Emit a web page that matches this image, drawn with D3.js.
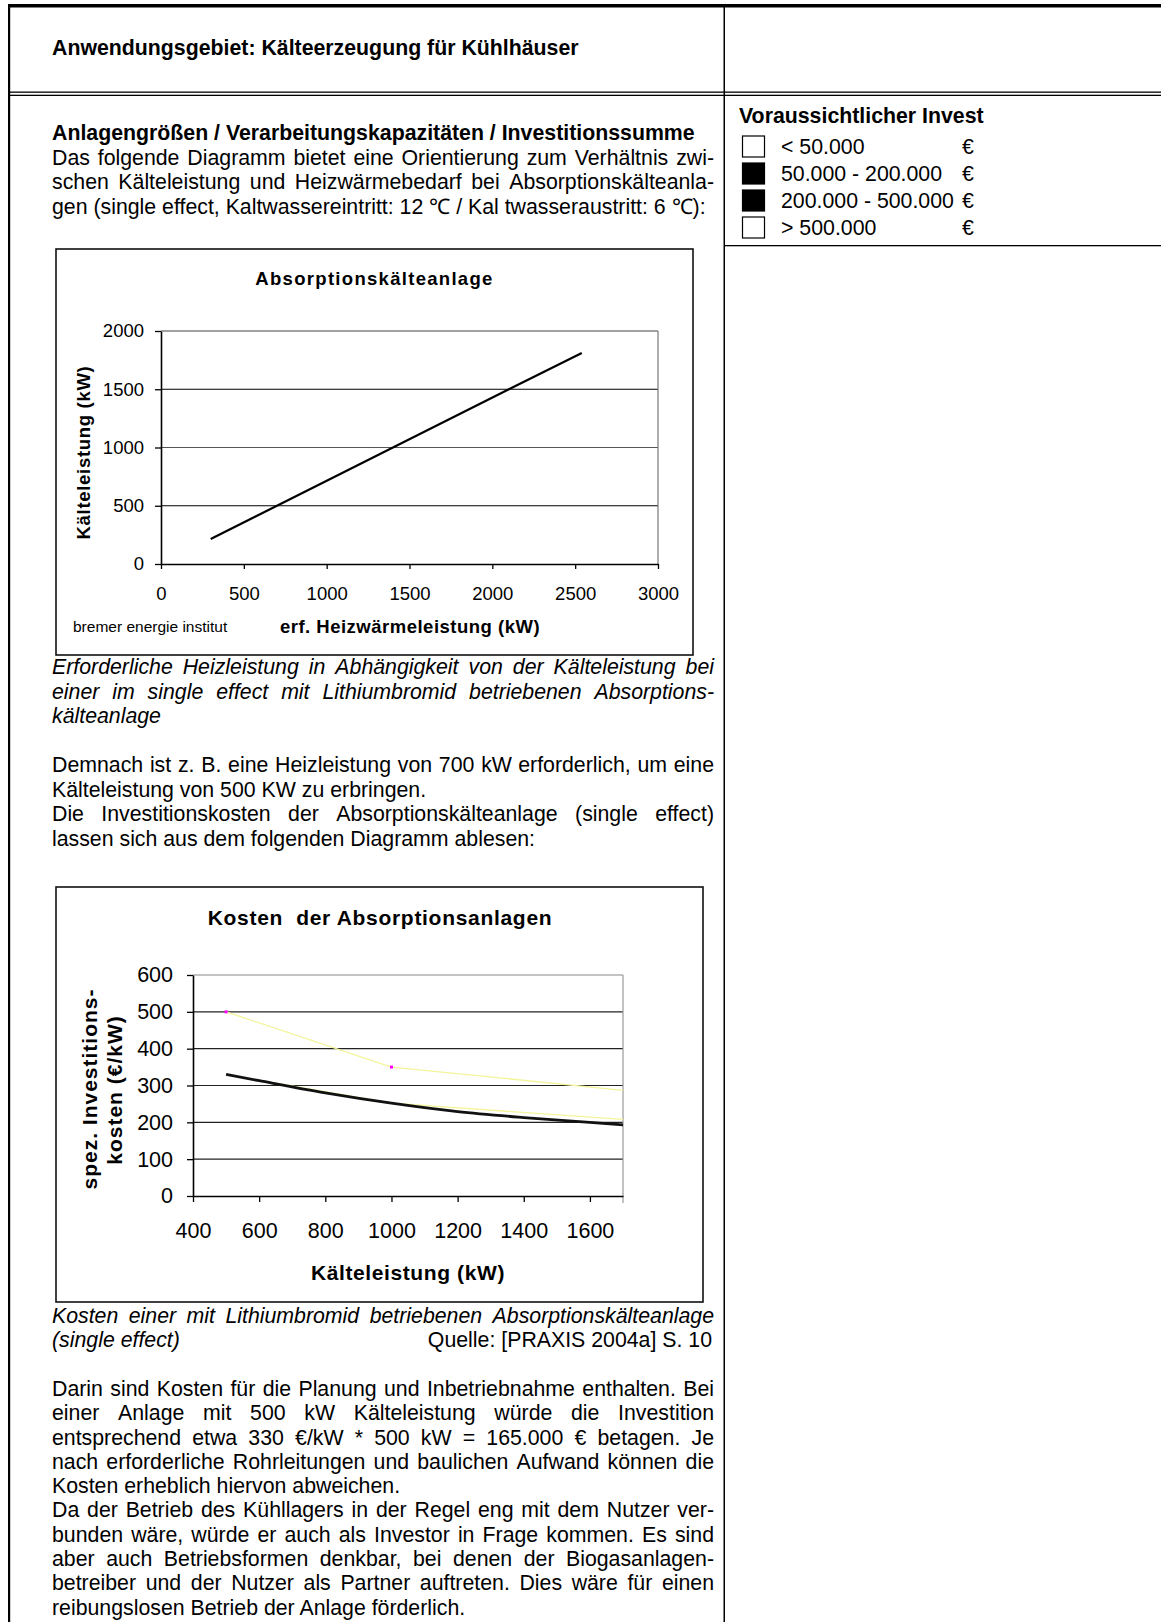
<!DOCTYPE html>
<html>
<head>
<meta charset="utf-8">
<script src="https://cdn.jsdelivr.net/npm/d3@7"></script>
<style>
  html, body { margin: 0; padding: 0; background: #fff; }
  svg { display: block; font-family: 'Liberation Sans', Arial, sans-serif; }
</style>
</head>
<body>
<script>
// ---- Chart 1: Absorptionskälteanlage (heat input vs. cooling output) ----
const heatKW = [300, 700, 1400, 2100, 2540];
const coolKW = [214, 500, 1000, 1500, 1812];
const heatTicks = [0, 500, 1000, 1500, 2000, 2500, 3000];
const coolTicks = [0, 500, 1000, 1500, 2000];

// ---- Chart 2: Kosten der Absorptionsanlagen ----
const capacityKW = [500, 600, 800, 1000, 1200, 1400, 1600, 1700];
const specCost = [330, 313, 280, 252, 229, 213, 200, 193];
const upperRefKW = [500, 1000, 1700];
const upperRefCost = [500, 350, 287];
const lowerRefKW = [500, 1000, 1700];
const lowerRefCost = [330, 252, 208];
const markerKW = [500, 1000];
const markerCost = [500, 350];
const capTicks = [400, 600, 800, 1000, 1200, 1400, 1600];
const costTicks = [0, 100, 200, 300, 400, 500, 600];

// ---- Legend ----
const investLabels = ["< 50.000", "50.000 - 200.000", "200.000 - 500.000", "> 500.000"];
const investFilled = [false, true, true, false];

const W = 1161, H = 1622, BODY = 21.3;
const svg = d3.select("body").append("svg").attr("width", W).attr("height", H);

// ---------- page table ----------
const table = svg.append("g");
table.append("rect").attr("x", 8).attr("y", 4).attr("width", W - 8).attr("height", 3.5).attr("fill", "#000");
table.append("rect").attr("x", 8).attr("y", 4).attr("width", 2.2).attr("height", H).attr("fill", "#000");
table.append("rect").attr("x", 723.5).attr("y", 4).attr("width", 1.5).attr("height", H).attr("fill", "#000");
table.append("rect").attr("x", 8).attr("y", 91.5).attr("width", W - 8).attr("height", 1.3).attr("fill", "#000");
table.append("rect").attr("x", 8).attr("y", 94.7).attr("width", W - 8).attr("height", 1.3).attr("fill", "#000");
table.append("rect").attr("x", 724).attr("y", 245).attr("width", W - 724).attr("height", 1.3).attr("fill", "#000");

// text helper: plain, or justified between x0 and x1 by widening word gaps
function line(str, x0, y, o = {}) {
  const t = svg.append("text").attr("y", y)
    .style("font-size", (o.size || BODY) + "px")
    .style("font-weight", o.bold ? "bold" : null)
    .style("font-style", o.italic ? "italic" : null)
    .attr("fill", "#000");
  if (o.justify) {
    const words = str.split(" ");
    const spans = words.map(w => t.append("tspan").text(w));
    const widths = spans.map(s => s.node().getComputedTextLength());
    const gap = (o.x1 - x0 - d3.sum(widths)) / (words.length - 1);
    let x = x0;
    spans.forEach((s, i) => { s.attr("x", x); x += widths[i] + gap; });
  } else {
    t.attr("x", x0).text(str);
    if (o.anchor) t.attr("text-anchor", o.anchor);
  }
  return t;
}

const L = 52, R = 714, LH = 24.5;
line("Anwendungsgebiet: Kälteerzeugung für Kühlhäuser", L, 55, { bold: true });

// legend in right column
line("Voraussichtlicher Invest", 739, 123, { bold: true });
investLabels.forEach((lab, i) => {
  const yb = 154 + i * 27;
  svg.append("rect").attr("x", 742.5).attr("y", yb - 18).attr("width", 22).attr("height", 21)
    .attr("fill", investFilled[i] ? "#000" : "#fff").attr("stroke", "#000").attr("stroke-width", 1.2);
  line(lab, 781, yb);
  line("€", 962, yb);
});

// introductory paragraph
let y = 140;
line("Anlagengrößen / Verarbeitungskapazitäten / Investitionssumme", L, y, { bold: true });
line("Das folgende Diagramm bietet eine Orientierung zum Verhältnis zwi-", L, y += LH, { justify: true, x1: R });
line("schen Kälteleistung und Heizwärmebedarf bei Absorptionskälteanla-", L, y += LH, { justify: true, x1: R });
line("gen (single effect, Kaltwassereintritt: 12 ℃ / Kal twasseraustritt: 6 ℃):", L, y += LH);

// caption + paragraph between charts
y = 674;
line("Erforderliche Heizleistung in Abhängigkeit von der Kälteleistung bei", L, y, { italic: true, justify: true, x1: R });
line("einer im single effect mit Lithiumbromid betriebenen Absorptions-", L, y += LH, { italic: true, justify: true, x1: R });
line("kälteanlage", L, y += LH, { italic: true });
y += LH;
line("Demnach ist z. B. eine Heizleistung von 700 kW erforderlich, um eine", L, y += LH, { justify: true, x1: R });
line("Kälteleistung von 500 KW zu erbringen.", L, y += LH);
line("Die Investitionskosten der Absorptionskälteanlage (single effect)", L, y += LH, { justify: true, x1: R });
line("lassen sich aus dem folgenden Diagramm ablesen:", L, y += LH);

// caption + closing paragraphs
const LH2 = 24.3;
y = 1323;
line("Kosten einer mit Lithiumbromid betriebenen Absorptionskälteanlage", L, y, { italic: true, justify: true, x1: R });
line("(single effect)", L, y += LH2, { italic: true });
line("Quelle: [PRAXIS 2004a] S. 10", 712, y, { anchor: "end" });
y += LH2;
[
  ["Darin sind Kosten für die Planung und Inbetriebnahme enthalten. Bei", true],
  ["einer Anlage mit 500 kW Kälteleistung würde die Investition", true],
  ["entsprechend etwa 330 €/kW * 500 kW = 165.000 € betagen. Je", true],
  ["nach erforderliche Rohrleitungen und baulichen Aufwand können die", true],
  ["Kosten erheblich hiervon abweichen.", false],
  ["Da der Betrieb des Kühllagers in der Regel eng mit dem Nutzer ver-", true],
  ["bunden wäre, würde er auch als Investor in Frage kommen. Es sind", true],
  ["aber auch Betriebsformen denkbar, bei denen der Biogasanlagen-", true],
  ["betreiber und der Nutzer als Partner auftreten. Dies wäre für einen", true],
  ["reibungslosen Betrieb der Anlage förderlich.", false]
].forEach(([s, j]) => line(s, L, y += LH2, { justify: j, x1: R }));

// ---------- Chart 1 ----------
{
  const g = svg.append("g");
  g.append("rect").attr("x", 56).attr("y", 249).attr("width", 637).attr("height", 406)
    .attr("fill", "#fff").attr("stroke", "#111").attr("stroke-width", 1.6);

  const x = d3.scaleLinear().domain([0, 3000]).range([161, 658]);
  const yS = d3.scaleLinear().domain([0, 2000]).range([564, 331]);

  // gridlines and frame of the plot area
  g.selectAll("line.grid").data(coolTicks.filter(v => v > 0)).join("line")
    .attr("x1", x(0)).attr("x2", x(3000)).attr("y1", d => yS(d)).attr("y2", d => yS(d))
    .attr("stroke", d => d === 2000 ? "#444" : (d === 1000 ? "#555" : "#000")).attr("stroke-width", 1.2);
  g.append("line").attr("x1", x(3000)).attr("x2", x(3000)).attr("y1", yS(2000)).attr("y2", yS(0))
    .attr("stroke", "#777").attr("stroke-width", 1.2);

  const fs = 18.5;
  const ax = g.append("g").attr("transform", `translate(0,${yS(0)})`)
    .call(d3.axisBottom(x).tickValues(heatTicks).tickSize(5).tickSizeOuter(0).tickPadding(18).tickFormat(d3.format("d")));
  const ay = g.append("g").attr("transform", `translate(${x(0)},0)`)
    .call(d3.axisLeft(yS).tickValues(coolTicks).tickSize(6).tickSizeOuter(0).tickPadding(11).tickFormat(d3.format("d")));
  [ax, ay].forEach(a => {
    a.selectAll("text").attr("fill", "#000").style("font-size", fs + "px");
    a.selectAll("line").attr("stroke", "#000").attr("stroke-width", 1.3);
    a.select(".domain").attr("stroke", "#000").attr("stroke-width", 1.6);
    a.attr("font-family", null).attr("font-size", null);
  });

  g.append("path").datum(heatKW.map((h, i) => [h, coolKW[i]]))
    .attr("d", d3.line().x(d => x(d[0])).y(d => yS(d[1])))
    .attr("fill", "none").attr("stroke", "#000").attr("stroke-width", 2.2);

  g.append("text").attr("x", 374.5).attr("y", 285).attr("text-anchor", "middle")
    .style("font-size", "18.5px").style("font-weight", "bold").style("letter-spacing", "1.3px")
    .text("Absorptionskälteanlage");
  g.append("text").attr("x", 410).attr("y", 633).attr("text-anchor", "middle")
    .style("font-size", "18.5px").style("font-weight", "bold").style("letter-spacing", "0.5px")
    .text("erf. Heizwärmeleistung (kW)");
  g.append("text").attr("transform", "translate(89.5,452.5) rotate(-90)").attr("text-anchor", "middle")
    .style("font-size", "18.5px").style("font-weight", "bold").style("letter-spacing", "0.7px")
    .text("Kälteleistung (kW)");
  g.append("text").attr("x", 73).attr("y", 632).style("font-size", "15.5px").text("bremer energie institut");
}

// ---------- Chart 2 ----------
{
  const g = svg.append("g");
  g.append("rect").attr("x", 56).attr("y", 887).attr("width", 647).attr("height", 415)
    .attr("fill", "#fff").attr("stroke", "#111").attr("stroke-width", 1.6);

  const x = d3.scaleLinear().domain([400, 1700]).range([193, 623]);
  const yS = d3.scaleLinear().domain([0, 600]).range([1196, 975]);

  g.selectAll("line.grid").data(costTicks.filter(v => v > 0)).join("line")
    .attr("x1", x(400)).attr("x2", x(1700)).attr("y1", d => yS(d)).attr("y2", d => yS(d))
    .attr("stroke", d => d === 600 ? "#888" : "#222").attr("stroke-width", 1.2);
  g.append("line").attr("x1", x(1700)).attr("x2", x(1700)).attr("y1", yS(600)).attr("y2", yS(0) + 7)
    .attr("stroke", "#999").attr("stroke-width", 1.2);

  const fs = 21.5;
  const ax = g.append("g").attr("transform", `translate(0,${yS(0)})`)
    .call(d3.axisBottom(x).tickValues(capTicks).tickSize(6).tickSizeOuter(0).tickPadding(20.5).tickFormat(d3.format("d")));
  const ay = g.append("g").attr("transform", `translate(${x(400)},0)`)
    .call(d3.axisLeft(yS).tickValues(costTicks).tickSize(6).tickSizeOuter(0).tickPadding(14).tickFormat(d3.format("d")));
  [ax, ay].forEach(a => {
    a.selectAll("text").attr("fill", "#000").style("font-size", fs + "px");
    a.selectAll("line").attr("stroke", "#000").attr("stroke-width", 1.3);
    a.select(".domain").attr("stroke", "#000").attr("stroke-width", 1.6);
    a.attr("font-family", null).attr("font-size", null);
  });

  const clipId = "plot2clip";
  g.append("clipPath").attr("id", clipId).append("rect")
    .attr("x", x(400)).attr("y", yS(600)).attr("width", x(1700) - x(400) + 1).attr("height", yS(0) - yS(600));
  const plot = g.append("g").attr("clip-path", `url(#${clipId})`);
  const ln = d3.line().x(d => x(d[0])).y(d => yS(d[1]));

  plot.append("path").datum(upperRefKW.map((k, i) => [k, upperRefCost[i]])).attr("d", ln)
    .attr("fill", "none").attr("stroke", "#f4f49a").attr("stroke-width", 1.3);
  plot.append("path").datum(lowerRefKW.map((k, i) => [k, lowerRefCost[i]])).attr("d", ln)
    .attr("fill", "none").attr("stroke", "#f4f49a").attr("stroke-width", 1.3);
  plot.append("path").datum(capacityKW.map((k, i) => [k, specCost[i]]))
    .attr("d", d3.line().x(d => x(d[0])).y(d => yS(d[1])).curve(d3.curveMonotoneX))
    .attr("fill", "none").attr("stroke", "#111").attr("stroke-width", 2.8);

  g.selectAll("rect.mk").data(markerKW.map((k, i) => [k, markerCost[i]])).join("rect")
    .attr("x", d => x(d[0]) - 1.5).attr("y", d => yS(d[1]) - 1.5).attr("width", 3).attr("height", 3)
    .attr("fill", "#ff00ff");

  g.append("text").attr("x", 380).attr("y", 925).attr("text-anchor", "middle")
    .style("font-size", "21px").style("font-weight", "bold").style("letter-spacing", "0.7px")
    .style("white-space", "pre").text("Kosten  der Absorptionsanlagen");
  g.append("text").attr("x", 408).attr("y", 1280).attr("text-anchor", "middle")
    .style("font-size", "21px").style("font-weight", "bold").style("letter-spacing", "0.6px")
    .text("Kälteleistung (kW)");
  g.append("text").attr("transform", "translate(97,1089) rotate(-90)").attr("text-anchor", "middle")
    .style("font-size", "21px").style("font-weight", "bold").style("letter-spacing", "1px")
    .text("spez. Investitions-");
  g.append("text").attr("transform", "translate(122,1090) rotate(-90)").attr("text-anchor", "middle")
    .style("font-size", "21px").style("font-weight", "bold").style("letter-spacing", "1px")
    .text("kosten (€/kW)");
}
</script>
</body>
</html>
